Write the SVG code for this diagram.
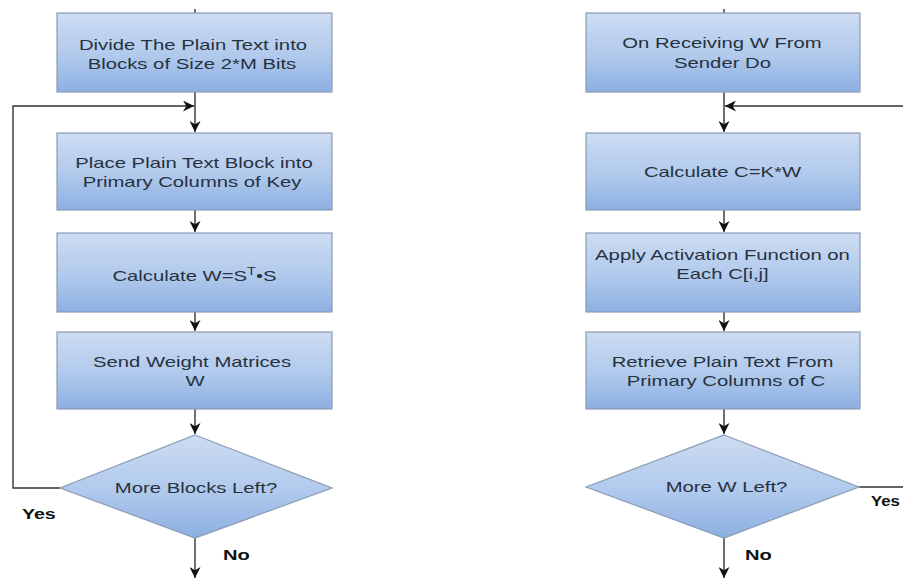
<svg xmlns="http://www.w3.org/2000/svg" width="903" height="581" viewBox="0 0 903 581">
<defs>
<linearGradient id="gb" x1="0" y1="0" x2="0" y2="1">
<stop offset="0" stop-color="#cddcf2"/>
<stop offset="0.55" stop-color="#b0c9ec"/>
<stop offset="1" stop-color="#8cafe2"/>
</linearGradient>
<marker id="ah" viewBox="0 0 10 10" refX="10" refY="5" markerWidth="11" markerHeight="11" markerUnits="userSpaceOnUse" orient="auto">
<path d="M0,0 L10,5 L0,10 L3,5 Z" fill="#111"/>
</marker>
<style>
.box{fill:url(#gb);stroke:#8a9bb4;stroke-width:1.2}
.t{font-family:"Liberation Sans",Arial,sans-serif;font-size:14px;fill:#27323f;text-anchor:middle}
.lb{font-family:"Liberation Sans",Arial,sans-serif;font-size:14px;font-weight:bold;fill:#111;text-anchor:start}
.ln{fill:none;stroke:#333;stroke-width:1.4}
</style>
</defs>
<rect width="903" height="581" fill="#ffffff"/>

<g id="connectors">
<line class="ln" x1="195" y1="9" x2="195" y2="13"/>
<line class="ln" x1="195" y1="92" x2="195" y2="132" marker-end="url(#ah)"/>
<polyline class="ln" points="60,488 13,488 13,106 194,106" marker-end="url(#ah)"/>
<line class="ln" x1="195" y1="210" x2="195" y2="232" marker-end="url(#ah)"/>
<line class="ln" x1="195" y1="312" x2="195" y2="331" marker-end="url(#ah)"/>
<line class="ln" x1="195" y1="409" x2="195" y2="434" marker-end="url(#ah)"/>
<line class="ln" x1="195" y1="538" x2="195" y2="578" marker-end="url(#ah)"/>

<line class="ln" x1="724" y1="9" x2="724" y2="13"/>
<line class="ln" x1="724" y1="92" x2="724" y2="132" marker-end="url(#ah)"/>
<polyline class="ln" points="859,487 903,487"/>
<line class="ln" x1="903" y1="106" x2="725" y2="106" marker-end="url(#ah)"/>
<line class="ln" x1="724" y1="210" x2="724" y2="232" marker-end="url(#ah)"/>
<line class="ln" x1="724" y1="312" x2="724" y2="331" marker-end="url(#ah)"/>
<line class="ln" x1="724" y1="409" x2="724" y2="434" marker-end="url(#ah)"/>
<line class="ln" x1="724" y1="538" x2="724" y2="578" marker-end="url(#ah)"/>
</g>

<g id="n-divide">
<rect class="box" x="57" y="13" width="275" height="79"/>
<text class="t" transform="translate(193,50) scale(1.45,1)">Divide The Plain Text into</text>
<text class="t" transform="translate(192,69) scale(1.45,1)">Blocks of Size 2*M Bits</text>
</g>
<g id="n-place">
<rect class="box" x="57" y="133" width="275" height="77"/>
<text class="t" transform="translate(194,168) scale(1.45,1)">Place Plain Text Block into</text>
<text class="t" transform="translate(192,187) scale(1.45,1)">Primary Columns of Key</text>
</g>
<g id="n-calcw">
<rect class="box" x="57" y="233" width="275" height="79"/>
<text class="t" transform="translate(194.5,281) scale(1.45,1)">Calculate W=S<tspan dy="-6" style="font-size:10px">T</tspan><tspan dy="6">•S</tspan></text>
</g>
<g id="n-send">
<rect class="box" x="57" y="332" width="275" height="77"/>
<text class="t" transform="translate(192,367) scale(1.45,1)">Send Weight Matrices</text>
<text class="t" transform="translate(195,386) scale(1.45,1)">W</text>
</g>
<g id="n-more-blocks">
<polygon class="box" points="195,435 332,488 195,538 60,488"/>
<text class="t" transform="translate(196,493) scale(1.45,1)">More Blocks Left?</text>
</g>
<text class="lb" transform="translate(22,519) scale(1.4,1)">Yes</text>
<text class="lb" transform="translate(223,560) scale(1.44,1)">No</text>

<g id="n-receive">
<rect class="box" x="586" y="13" width="274" height="79"/>
<text class="t" transform="translate(722,48) scale(1.45,1)">On Receiving W From</text>
<text class="t" transform="translate(722.5,68) scale(1.45,1)">Sender Do</text>
</g>
<g id="n-calcc">
<rect class="box" x="586" y="133" width="274" height="77"/>
<text class="t" transform="translate(722.5,177) scale(1.45,1)">Calculate C=K*W</text>
</g>
<g id="n-apply">
<rect class="box" x="586" y="233" width="274" height="79"/>
<text class="t" transform="translate(722.5,260) scale(1.45,1)">Apply Activation Function on</text>
<text class="t" transform="translate(722.5,279) scale(1.45,1)">Each C[i,j]</text>
</g>
<g id="n-retrieve">
<rect class="box" x="586" y="332" width="274" height="77"/>
<text class="t" transform="translate(722.5,367) scale(1.45,1)">Retrieve Plain Text From</text>
<text class="t" transform="translate(726,386) scale(1.45,1)">Primary Columns of C</text>
</g>
<g id="n-more-w">
<polygon class="box" points="724,435 859,487 724,538 586,487"/>
<text class="t" transform="translate(726.5,492) scale(1.45,1)">More W Left?</text>
</g>
<text class="lb" transform="translate(871,506) scale(1.2,1)">Yes</text>
<text class="lb" transform="translate(745,560) scale(1.44,1)">No</text>
</svg>
